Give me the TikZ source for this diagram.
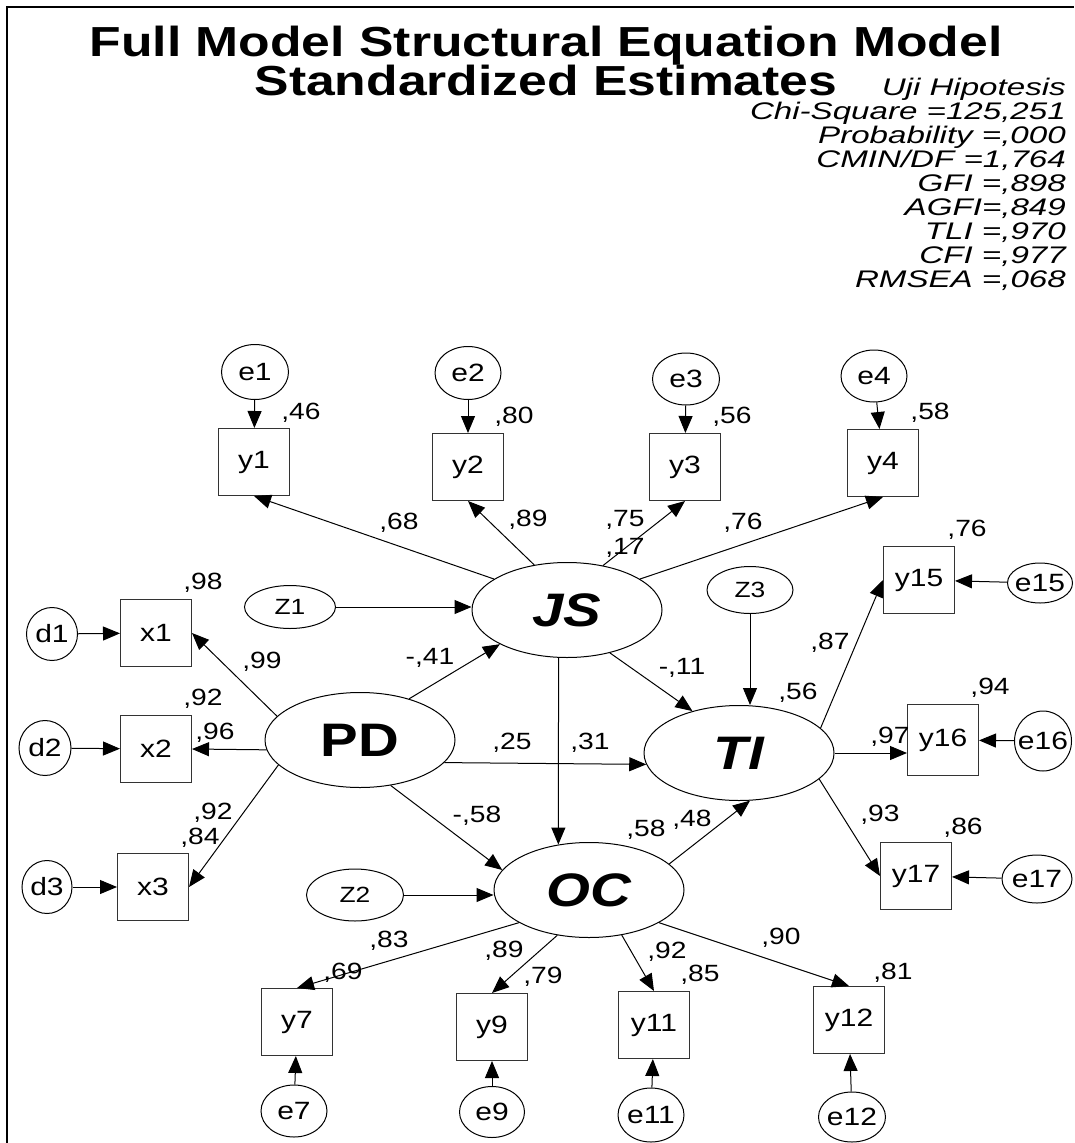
\documentclass[tikz,border=0pt]{standalone}
\usepackage{fontspec}
\setmainfont[FakeStretch=1.2]{Liberation Sans}
\newfontfamily\semfitfam[FakeStretch=1.38]{Liberation Sans}
\newfontfamily\semtitlefam[FakeStretch=1.23]{Liberation Sans}
\usetikzlibrary{shapes.geometric,arrows.meta}
\newcommand\semtitle{\semtitlefam\fontsize{42}{48}\selectfont\bfseries}
\newcommand\semfit{\semfitfam\fontsize{24}{26}\selectfont\itshape}
\newcommand\semnode{\fontsize{25}{28}\selectfont}
\newcommand\semz{\fontsize{22}{26}\selectfont}
\newcommand\semlat{\fontsize{47}{54}\selectfont\bfseries}
\newcommand\semlbl{\fontsize{23.5}{27}\selectfont}
\newcommand\semzb[1]{\makebox[0pt]{#1}}
\begin{document}
\begin{tikzpicture}[x=1pt,y=-1pt,
  lat/.style={ellipse,draw,line width=1pt,minimum width=190pt,minimum height=95pt,inner sep=0pt,font=\semlat},
  obs/.style={rectangle,draw=black!80,line width=1pt,minimum width=71pt,minimum height=67pt,inner sep=0pt,font=\semnode},
  err/.style={ellipse,draw,line width=1pt,inner sep=0pt,font=\semnode},
  dist/.style={ellipse,draw,line width=1pt,inner sep=0pt,font=\semz},
  lbl/.style={inner sep=0pt,font=\semlbl},
  fit/.style={anchor=base east,inner sep=0pt,font=\semfit},
  arr/.style={-{Triangle[length=17pt,width=14pt]},line width=1pt}]
\useasboundingbox (0,0) rectangle (1074,1143);
\draw[line width=2.5pt] (7,1143) -- (7,7) -- (1074,7);
% title
\node[anchor=base,inner sep=0pt,font=\semtitle] (t1) at (546,56) {Full Model Structural Equation Model};
\node[anchor=base,inner sep=0pt,font=\semtitle] (t2) at (546,95) {Standardized Estimates};
% fit statistics
\node[fit] (f1) at (1066,95) {Uji Hipotesis};
\node[fit] (f2) at (1066,119) {Chi-Square =125,251};
\node[fit] (f3) at (1066,143) {Probability =,000};
\node[fit] (f4) at (1066,167) {CMIN/DF =1,764};
\node[fit] (f5) at (1066,191) {GFI =,898};
\node[fit] (f6) at (1066,215) {AGFI=,849};
\node[fit] (f7) at (1066,239) {TLI =,970};
\node[fit] (f8) at (1066,263) {CFI =,977};
\node[fit] (f9) at (1066,287) {RMSEA =,068};
% latent variables
\node[lat] (JS) at (567,610) {\semzb{\itshape JS}};
\node[lat] (PD) at (360,740) {\semzb{PD}};
\node[lat] (TI) at (739,753) {\semzb{\itshape TI}};
\node[lat] (OC) at (589,890) {\semzb{\itshape OC}};
% disturbances
\node[dist,minimum width=91pt,minimum height=43pt] (Z1) at (290,607) {\semzb{Z1}};
\node[dist,minimum width=86pt,minimum height=47pt] (Z3) at (750,590) {\semzb{Z3}};
\node[dist,minimum width=97pt,minimum height=52pt] (Z2) at (355,895) {\semzb{Z2}};
% JS indicators
\node[obs] (y1) at (254,462) {y1};
\node[obs] (y2) at (468,467) {y2};
\node[obs] (y3) at (685,467) {y3};
\node[obs] (y4) at (883,463) {y4};
\node[err,minimum width=67pt,minimum height=55pt] (e1) at (255,372) {\semzb{e1}};
\node[err,minimum width=66pt,minimum height=53pt] (e2) at (468,373) {\semzb{e2}};
\node[err,minimum width=67pt,minimum height=52pt] (e3) at (686,379) {\semzb{e3}};
\node[err,minimum width=66pt,minimum height=52pt] (e4) at (874,376) {\semzb{e4}};
% PD indicators
\node[obs] (x1) at (156,633) {x1};
\node[obs] (x2) at (156,749) {x2};
\node[obs] (x3) at (153,887) {x3};
\node[err,minimum width=51pt,minimum height=53pt] (d1) at (52,634) {\semzb{d1}};
\node[err,minimum width=52pt,minimum height=55pt] (d2) at (45,748) {\semzb{d2}};
\node[err,minimum width=50pt,minimum height=53pt] (d3) at (47,887) {\semzb{d3}};
% TI indicators
\node[obs] (y15) at (919,580) {y15};
\node[obs,minimum height=71pt] (y16) at (943,740) {y16};
\node[obs] (y17) at (916,876) {y17};
\node[err,minimum width=65pt,minimum height=40pt] (e15) at (1040,583) {\semzb{e15}};
\node[err,minimum width=57pt,minimum height=60pt] (e16) at (1043,741) {\semzb{e16}};
\node[err,minimum width=70pt,minimum height=48pt] (e17) at (1037,879) {\semzb{e17}};
% OC indicators
\node[obs] (y7) at (297,1022) {y7};
\node[obs] (y9) at (492,1027) {y9};
\node[obs] (y11) at (654,1025) {y11};
\node[obs] (y12) at (849,1020) {y12};
\node[err,minimum width=66pt,minimum height=52pt] (e7) at (294,1111) {\semzb{e7}};
\node[err,minimum width=65pt,minimum height=51pt] (e9) at (492,1112) {\semzb{e9}};
\node[err,minimum width=66pt,minimum height=54pt] (e11) at (651,1115) {\semzb{e11}};
\node[err,minimum width=67pt,minimum height=50pt] (e12) at (852,1117) {\semzb{e12}};
% connectors
\draw[arr] (e1) -- (y1);
\draw[arr] (e2) -- (y2);
\draw[arr] (e3) -- (y3);
\draw[arr] (e4) -- (y4);
\draw[arr] (JS.157) -- (y1.south);
\draw[arr] (JS.126) -- (y2.south);
\draw[arr] (JS.51) -- (y3.south);
\draw[arr] (JS.23) -- (y4.south);
\draw[arr] (Z1.east) -- (Z1.east -| JS.west);
\draw[arr] (Z3.south) -- (Z3.south |- TI.north);
\draw[arr] (Z2.east) -- (Z2.east -| OC.west);
\draw[arr] (PD.164) -- (x1.east);
\draw[arr] (PD.186) -- (x2.east);
\draw[arr] (PD.197) -- (x3.east);
\draw[arr] (d1) -- (x1);
\draw[arr] (d2) -- (x2);
\draw[arr] (d3) -- (x3);
\draw[arr] (PD.40) -- (JS.207);
\draw[arr] (PD.345) -- (TI.187);
\draw[arr] (PD.304) -- (OC.167);
\draw[arr] (JS.315) -- (TI.138);
\draw[arr] (JS.260) -- (OC.124);
\draw[arr] (OC.18) -- (TI.283);
\draw[arr] (TI.17) -- (y15.west);
\draw[arr] (TI.east) -- (TI.east -| y16.west);
\draw[arr] (TI.342) -- (y17.west);
\draw[arr] (e15) -- (y15);
\draw[arr] (e16) -- (y16);
\draw[arr] (e17) -- (y17);
\draw[arr] (OC.205) -- (y7.north);
\draw[arr] (OC.235) -- (y9.north);
\draw[arr] (OC.306) -- (y11.north);
\draw[arr] (OC.335) -- (y12.north);
\draw[arr] (e7) -- (y7);
\draw[arr] (e9) -- (y9);
\draw[arr] (e11) -- (y11);
\draw[arr] (e12) -- (y12);
% estimates
\node[lbl] (l1) at (301,413) {,46};
\node[lbl] (l2) at (514,417) {,80};
\node[lbl] (l3) at (732,417) {,56};
\node[lbl] (l4) at (930,413) {,58};
\node[lbl] (l5) at (399,523) {,68};
\node[lbl] (l6) at (528,520) {,89};
\node[lbl] (l7) at (625,520) {,75};
\node[lbl] (l8) at (625,548) {,17};
\node[lbl] (l9) at (743,523) {,76};
\node[lbl] (l10) at (203,583) {,98};
\node[lbl] (l11) at (262,662) {,99};
\node[lbl] (l12) at (430,658) {-,41};
\node[lbl] (l13) at (203,699) {,92};
\node[lbl] (l14) at (215,733) {,96};
\node[lbl] (l15) at (213,813) {,92};
\node[lbl] (l16) at (200,838) {,84};
\node[lbl] (l17) at (477,816) {-,58};
\node[lbl] (l18) at (512,743) {,25};
\node[lbl] (l19) at (590,743) {,31};
\node[lbl] (l20) at (967,530) {,76};
\node[lbl] (l21) at (830,643) {,87};
\node[lbl] (l22) at (682,668) {-,11};
\node[lbl] (l23) at (798,693) {,56};
\node[lbl] (l24) at (990,688) {,94};
\node[lbl] (l25) at (890,737) {,97};
\node[lbl] (l26) at (880,815) {,93};
\node[lbl] (l27) at (963,828) {,86};
\node[lbl] (l28) at (646,830) {,58};
\node[lbl] (l29) at (692,820) {,48};
\node[lbl] (l30) at (389,941) {,83};
\node[lbl] (l31) at (343,973) {,69};
\node[lbl] (l32) at (504,951) {,89};
\node[lbl] (l33) at (543,977) {,79};
\node[lbl] (l34) at (667,952) {,92};
\node[lbl] (l35) at (700,975) {,85};
\node[lbl] (l36) at (781,938) {,90};
\node[lbl] (l37) at (893,973) {,81};
\end{tikzpicture}
\end{document}
